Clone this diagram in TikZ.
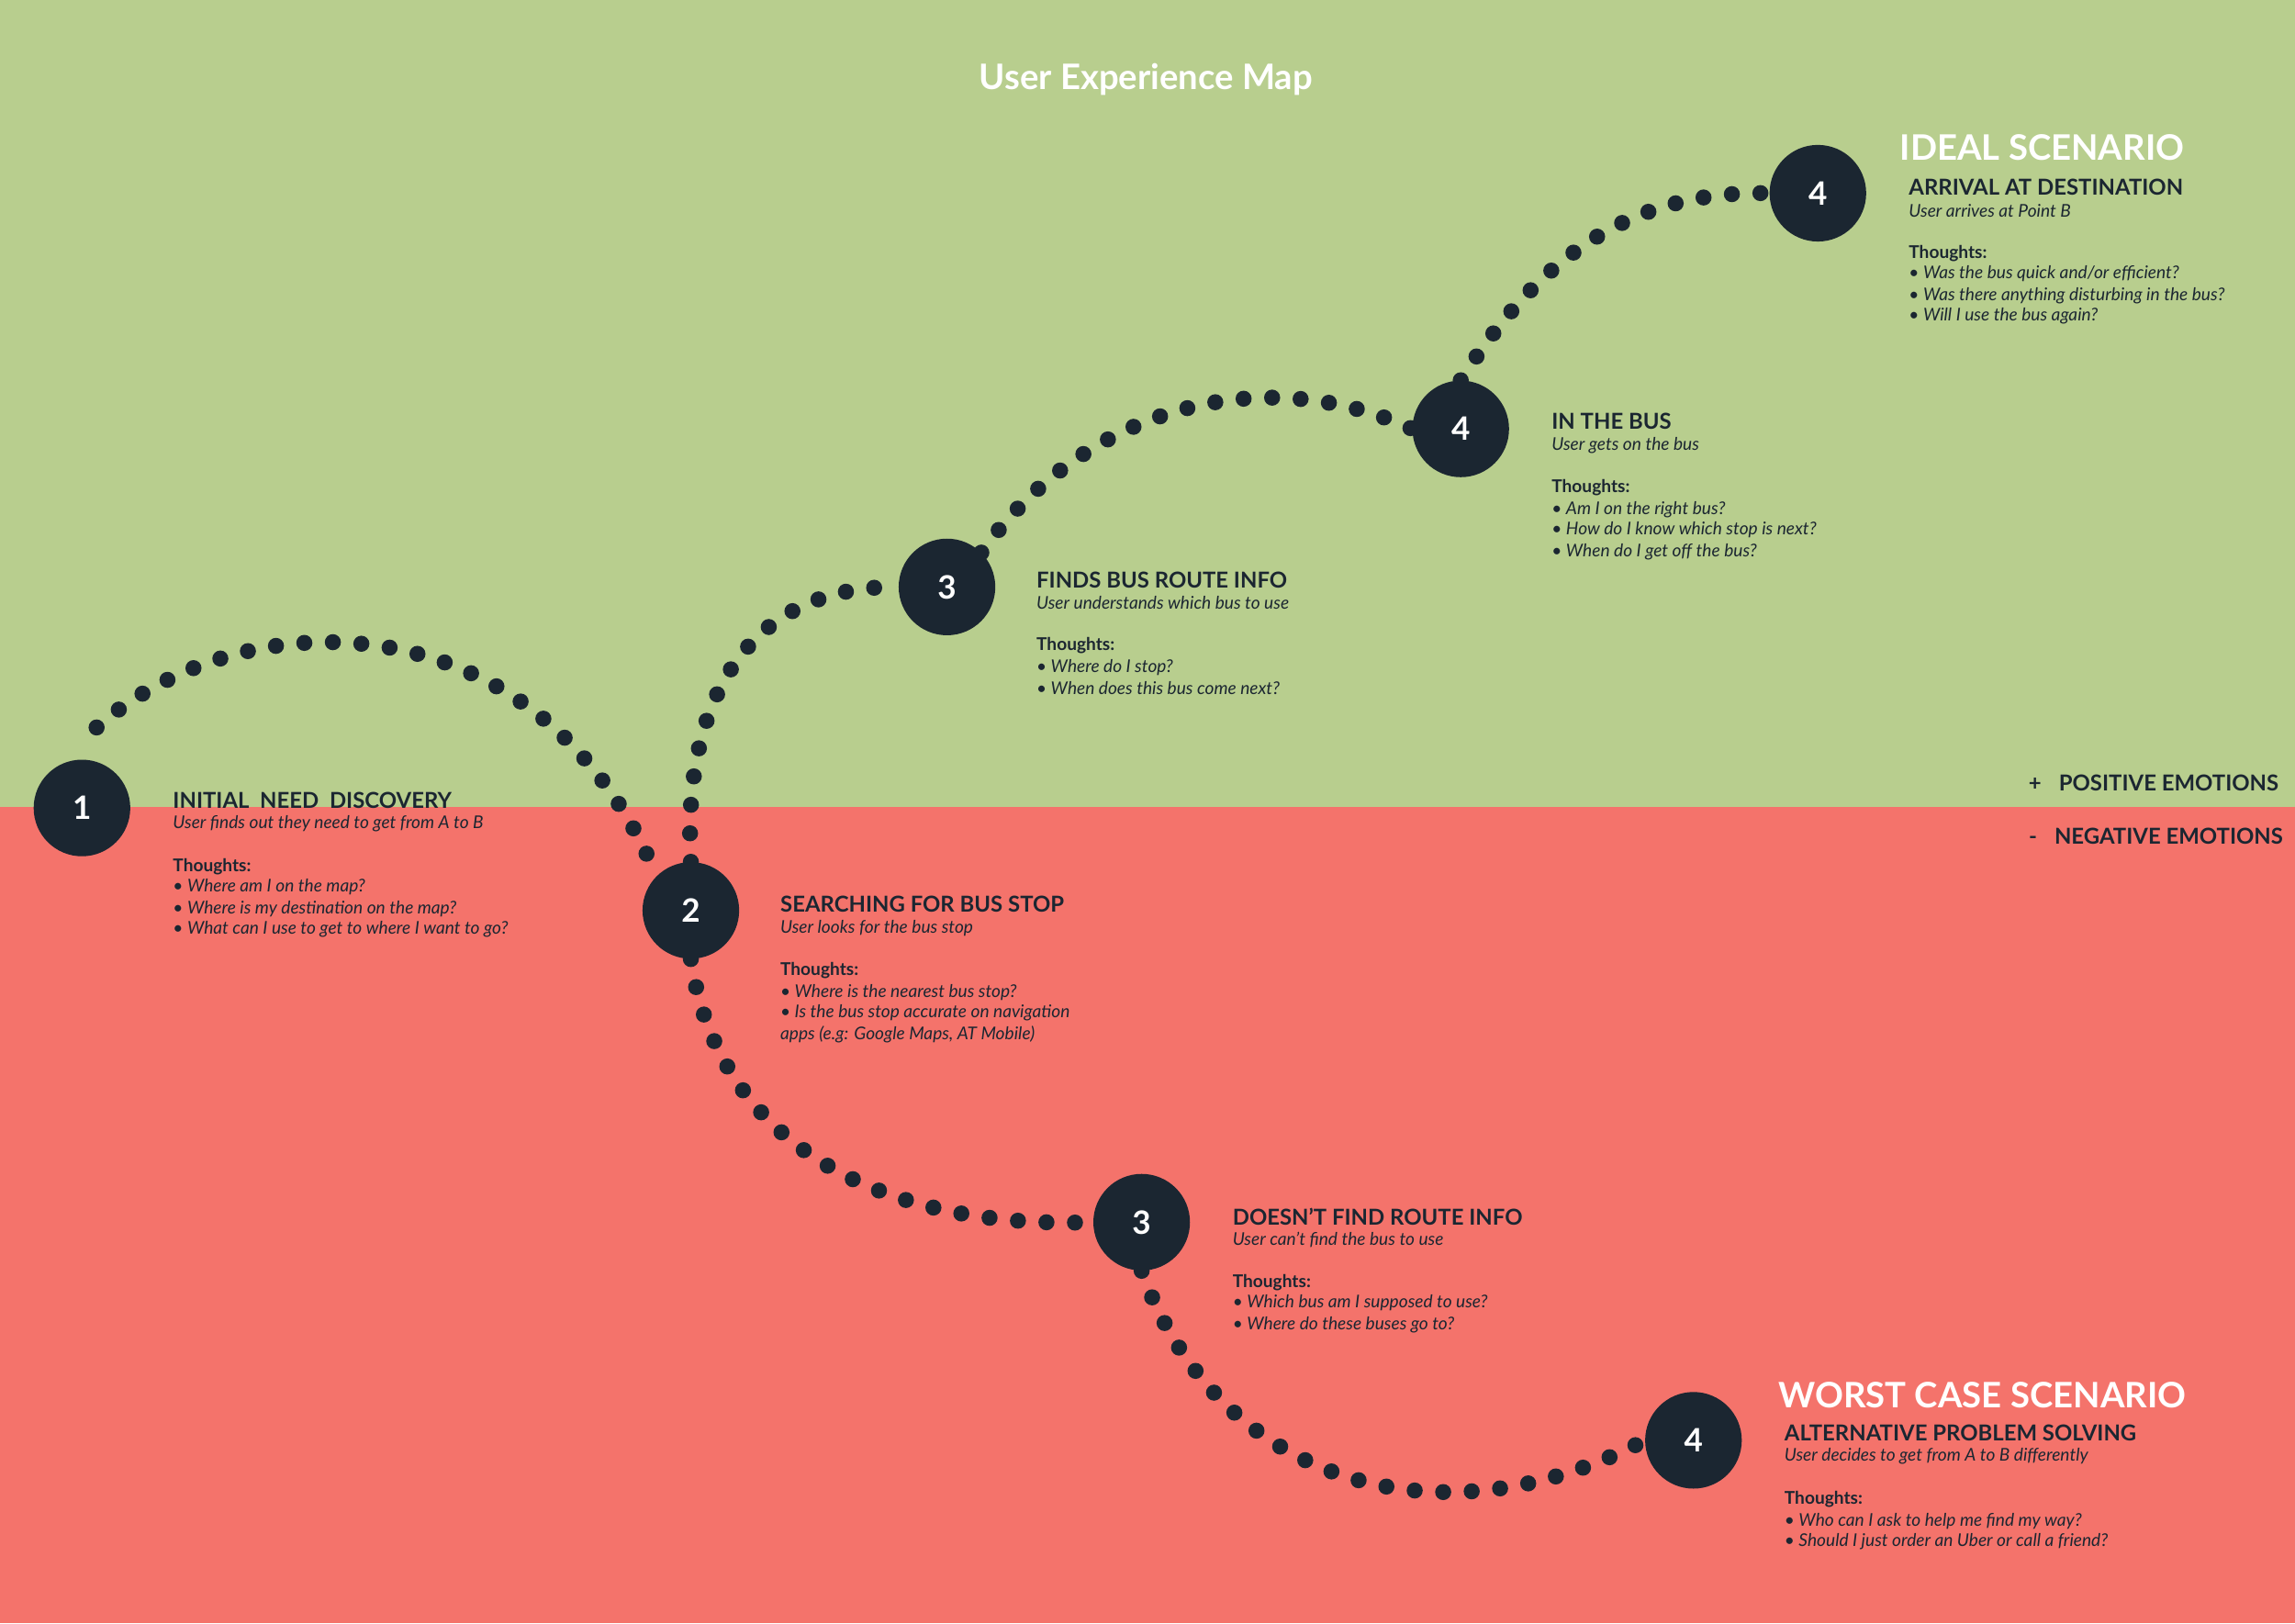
\documentclass[tikz,border=0pt]{standalone}
\usepackage{fontspec}
\setmainfont{Lato}
\definecolor{ugreen}{HTML}{B8CE8E}
\definecolor{ured}{HTML}{F4736B}
\definecolor{udark}{HTML}{1B2631}
\tikzset{
 stepcirc/.style={circle,fill=udark,minimum size=66pt,inner sep=0,text=white,font=\fontsize{22}{22}\selectfont\bfseries},
 dots/.style={draw=udark,line width=11pt,line cap=round,dash pattern=on 0pt off 19.5pt},
 hd/.style={anchor=west,inner sep=0,text=udark,font=\fontsize{15}{15}\selectfont\bfseries},
 sb/.style={anchor=west,inner sep=0,text=udark,font=\fontsize{12}{12}\selectfont\itshape},
 th/.style={anchor=west,inner sep=0,text=udark,font=\fontsize{12}{12}\selectfont\bfseries},
 big/.style={anchor=west,inner sep=0,text=white,font=\fontsize{24}{24}\selectfont\bfseries},
 emo/.style={anchor=east,inner sep=0,text=udark,font=\fontsize{15}{15}\selectfont\bfseries},
}
\begin{document}
\begin{tikzpicture}[x=1pt,y=-1pt]
\fill[ugreen] (0,0) rectangle (1568,551);
\fill[ured] (0,551) rectangle (1568,1109);
\useasboundingbox (0,0) rectangle (1568,1109);
\node[inner sep=0,text=white,font=\fontsize{24}{24}\selectfont\bfseries] (title) at (783,54) {User Experience Map};
% circles
\node[stepcirc] (s1) at (56,552) {1};
\node[stepcirc] (s2) at (472,622) {2};
\node[stepcirc] (s3a) at (647,401) {3};
\node[stepcirc] (s4m) at (998,293) {4};
\node[stepcirc] (s4t) at (1242,132) {4};
\node[stepcirc] (s3b) at (780,835) {3};
\node[stepcirc] (s4b) at (1157,984) {4};
\coordinate (a0) at (66,497);
% dotted paths
\draw[dots] (a0) .. controls (170,405) and (370,410) .. (s2.north west);
\draw[dots] (s2.north) .. controls (466,480) and (510,400) .. (s3a.west);
\draw[dots] (s3a.north east) .. controls (740,280) and (860,245) .. (s4m.west);
\draw[dots] (s4m.north) .. controls (1055,170) and (1120,130) .. (s4t.west);
\draw[dots] (s2.south) .. controls (490,780) and (600,840) .. (s3b.west);
\draw[dots] (s3b.south) .. controls (830,1010) and (980,1060) .. (s4b.west);
% labels
\node[emo] (pos) at (1557,535) {+\hspace{12pt}POSITIVE EMOTIONS};
\node[emo] (neg) at (1560,571) {-\hspace{12pt}NEGATIVE EMOTIONS};
\node[big] (ideal) at (1298,101) {IDEAL SCENARIO};
\node[big] (worst) at (1215,953) {WORST CASE SCENARIO};
% block 1
\node[hd] (h1) at (118,547) {INITIAL\ \ NEED\ \ DISCOVERY};
\node[sb] (b1s) at (118,563) {User finds out they need to get from A to B};
\node[th] (b1t) at (118,592) {Thoughts:};
\node[sb] (b1a) at (118,606) {• Where am I on the map?};
\node[sb] (b1b) at (118,621) {• Where is my destination on the map?};
\node[sb] (b1c) at (118,635) {• What can I use to get to where I want to go?};
% block 2
\node[hd] (h2) at (533,618) {SEARCHING FOR BUS STOP};
\node[sb] (b2s) at (533,634) {User looks for the bus stop};
\node[th] (b2t) at (533,663) {Thoughts:};
\node[sb] (b2a) at (533,678) {• Where is the nearest bus stop?};
\node[sb] (b2b) at (533,692) {• Is the bus stop accurate on navigation};
\node[sb] (b2c) at (533,707) {apps (e.g: Google Maps, AT Mobile)};
% block 3a
\node[hd] (h3) at (708,396) {FINDS BUS ROUTE INFO};
\node[sb] (b3s) at (708,412) {User understands which bus to use};
\node[th] (b3t) at (708,441) {Thoughts:};
\node[sb] (b3a) at (708,456) {• Where do I stop?};
\node[sb] (b3b) at (708,470) {• When does this bus come next?};
% block 4m
\node[hd] (h4) at (1060,288) {IN THE BUS};
\node[sb] (b4s) at (1060,304) {User gets on the bus};
\node[th] (b4t) at (1060,333) {Thoughts:};
\node[sb] (b4a) at (1060,348) {• Am I on the right bus?};
\node[sb] (b4b) at (1060,362) {• How do I know which stop is next?};
\node[sb] (b4c) at (1060,377) {• When do I get off the bus?};
% block 4t
\node[hd] (h5) at (1304,128) {ARRIVAL AT DESTINATION};
\node[sb] (b5s) at (1304,144) {User arrives at Point B};
\node[th] (b5t) at (1304,173) {Thoughts:};
\node[sb] (b5a) at (1304,187) {• Was the bus quick and/or efficient?};
\node[sb] (b5b) at (1304,202) {• Was there anything disturbing in the bus?};
\node[sb] (b5c) at (1304,216) {• Will I use the bus again?};
% block 3b
\node[hd] (h6) at (842,831) {DOESN’T FIND ROUTE INFO};
\node[sb] (b6s) at (842,847) {User can’t find the bus to use};
\node[th] (b6t) at (842,876) {Thoughts:};
\node[sb] (b6a) at (842,890) {• Which bus am I supposed to use?};
\node[sb] (b6b) at (842,905) {• Where do these buses go to?};
% block 4b
\node[hd] (h7) at (1219,979) {ALTERNATIVE PROBLEM SOLVING};
\node[sb] (b7s) at (1219,995) {User decides to get from A to B differently};
\node[th] (b7t) at (1219,1024) {Thoughts:};
\node[sb] (b7a) at (1219,1039) {• Who can I ask to help me find my way?};
\node[sb] (b7b) at (1219,1053) {• Should I just order an Uber or call a friend?};
\end{tikzpicture}
\end{document}
